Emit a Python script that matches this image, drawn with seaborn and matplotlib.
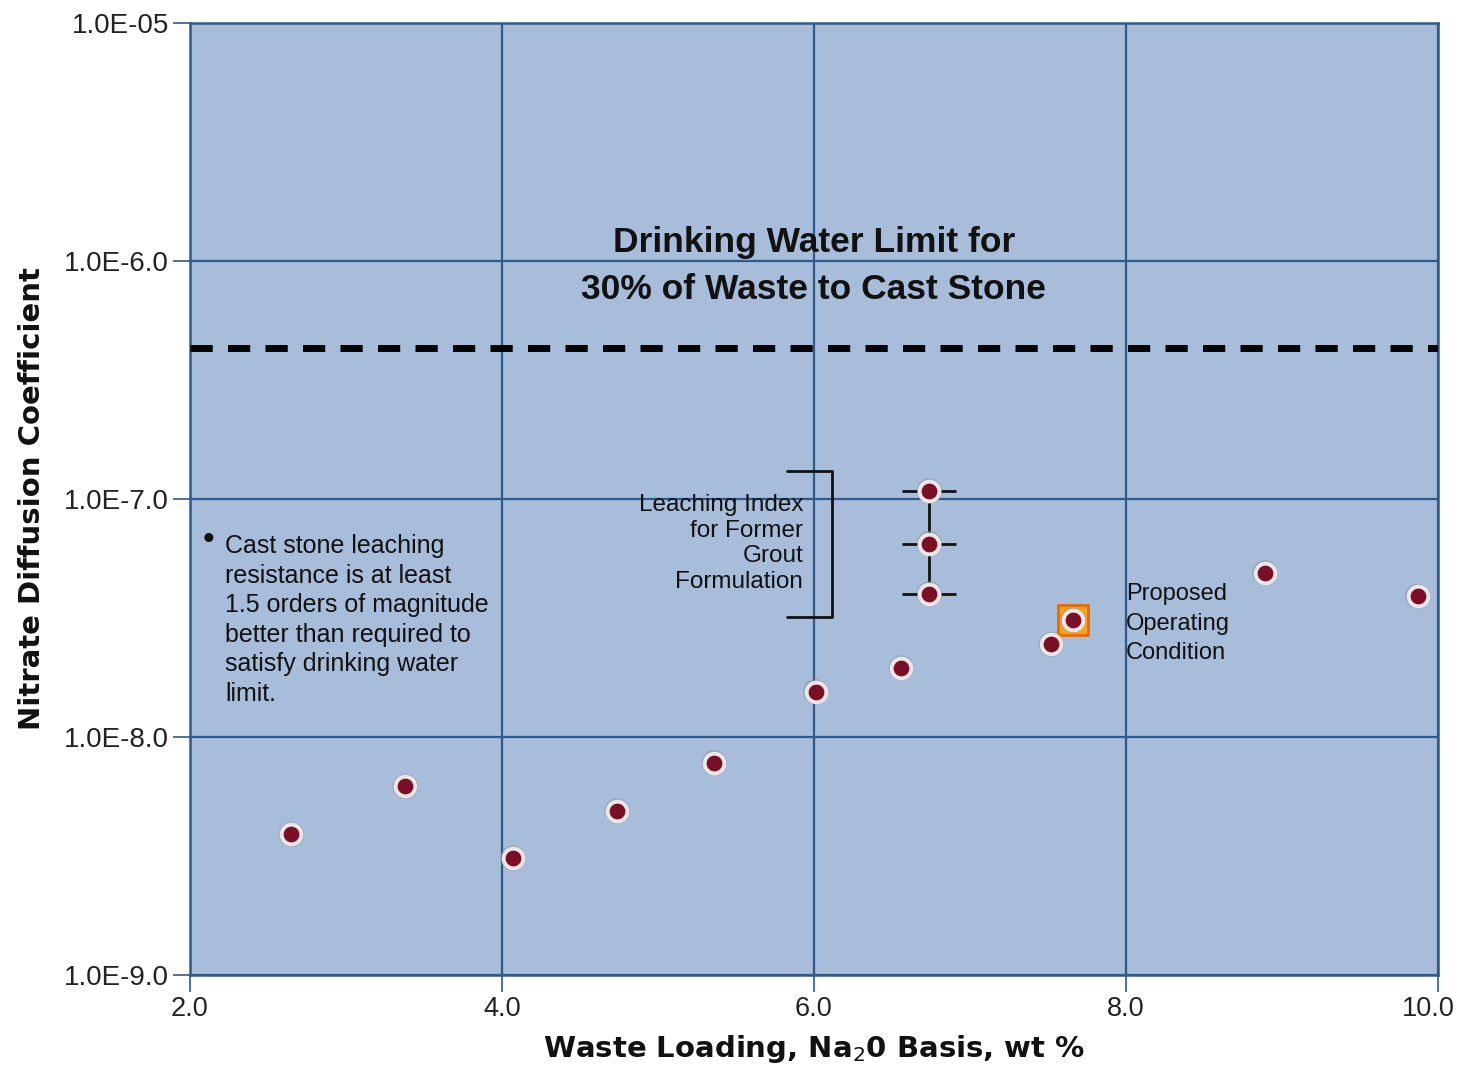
import matplotlib
matplotlib.use("Agg")
import matplotlib.pyplot as plt
import matplotlib.transforms as mtransforms
import seaborn as sns
import pandas as pd
from matplotlib.ticker import FixedLocator, NullLocator

# Cast stone leach test results
waste_loading = [2.65, 3.38, 4.07, 4.74, 5.36, 6.01, 6.56, 7.52, 7.66, 8.89, 9.87]
diffusivity = [3.9e-9, 6.2e-9, 3.1e-9, 4.9e-9, 7.8e-9, 1.55e-8, 1.95e-8, 2.45e-8, 3.1e-8, 4.9e-8, 3.9e-8]

# Former grout formulation leaching index values
grout_loading = [6.74, 6.74, 6.74]
grout_diffusivity = [1.08e-7, 6.5e-8, 4.0e-8]

# Proposed operating condition
proposed_loading = [7.66]
proposed_diffusivity = [3.1e-8]

# Drinking water limit
limit_value = 4.3e-7

x_ticks = [2.0, 4.0, 6.0, 8.0, 10.0]
x_tick_labels = ["2.0", "4.0", "6.0", "8.0", "10.0"]
y_ticks = [1e-9, 1e-8, 1e-7, 1e-6, 1e-5]
y_tick_labels = ["1.0E-9.0", "1.0E-8.0", "1.0E-7.0", "1.0E-6.0", "1.0E-05"]

sns.set_theme(style="white")
plt.rcParams["font.family"] = ["Liberation Sans", "DejaVu Sans"]

BG = "#A8BDDA"
GRID = "#2D5B8C"
DOT = "#7A0F26"
RING = "#ECE6E6"
INK = "#111111"

fig = plt.figure(figsize=(14.6, 10.66), dpi=100)
ax = fig.add_axes([0.1301, 0.0854, 0.8548, 0.8930])
ax.set_facecolor(BG)
ax.set_yscale("log")
ax.set_xlim(2.0, 10.0)
ax.set_ylim(1e-9, 1e-5)

ax.xaxis.set_major_locator(FixedLocator(x_ticks))
ax.yaxis.set_major_locator(FixedLocator(y_ticks))
ax.yaxis.set_minor_locator(NullLocator())
ax.set_xticklabels(x_tick_labels)
ax.set_yticklabels(y_tick_labels)
ax.tick_params(axis="y", which="major", labelsize=20)
ax.tick_params(axis="x", which="major", labelsize=19.5)
ax.tick_params(axis="both", which="major", colors=GRID,
               labelcolor="#222222", length=12, width=1.2, direction="out",
               pad=3, left=True, bottom=True)
ax.grid(True, which="major", color=GRID, linewidth=1.6)
for s in ax.spines.values():
    s.set_color(GRID)
    s.set_linewidth(1.8)

# nudge the last x tick label inward so it stays on the canvas
last = ax.get_xticklabels()[-1]
last.set_transform(last.get_transform() +
                   mtransforms.ScaledTranslation(-10 / 100, 0, fig.dpi_scale_trans))

# drinking water limit
ax.axhline(limit_value, color="black", linewidth=5, dashes=(3.2, 2.2), zorder=3)
ax.text(6.0, 9.5e-7, "Drinking Water Limit for\n30% of Waste to Cast Stone",
        ha="center", va="center", fontsize=25.5, fontweight="bold",
        linespacing=1.55, color=INK, zorder=4)

# former grout range: connecting line and horizontal caps
ax.plot([grout_loading[0], grout_loading[0]],
        [min(grout_diffusivity), max(grout_diffusivity)],
        color=INK, linewidth=2, zorder=4)
ax.scatter(grout_loading, grout_diffusivity, marker="_", s=1500,
           color=INK, linewidths=2, zorder=4)

# proposed operating condition highlight
ax.scatter(proposed_loading, proposed_diffusivity, marker="s", s=480,
           color="#F7A21B", edgecolors="#E86A00", linewidths=2, zorder=5)

df = pd.DataFrame({"loading": waste_loading + grout_loading,
                   "diff": diffusivity + grout_diffusivity})
# soft shadow beneath each dot
sns.scatterplot(data=df, x="loading", y="diff", ax=ax, s=330, color="#8C96A8",
                edgecolor="none", alpha=0.55, zorder=5, legend=False)
sns.scatterplot(data=df, x="loading", y="diff", ax=ax, s=200, color=DOT,
                edgecolor=RING, linewidth=2.8, zorder=6, legend=False)

ax.set_xlabel("Waste Loading, Na$_2$0 Basis, wt %", fontsize=21,
              fontweight="bold", family="DejaVu Sans", labelpad=8,
              color=INK)
ax.set_ylabel("Nitrate Diffusion Coefficient", fontsize=21,
              fontweight="bold", family="DejaVu Sans", color=INK)
ax.yaxis.set_label_coords(-0.115, 0.5)

# bracket around the former grout label
b_left, b_right = 5.83, 6.115
b_top, b_bottom = 1.31e-7, 3.19e-8
ax.plot([b_left, b_right, b_right, b_left], [b_top, b_top, b_bottom, b_bottom],
        color=INK, lw=2, zorder=4)

# annotation texts
ax.text(5.93, 6.5e-8, "Leaching Index\nfor Former\nGrout\nFormulation",
        ha="right", va="center", fontsize=17.5, linespacing=1.22,
        color=INK, zorder=4)

ax.text(2.08, 6.7e-8, "\u2022", ha="left", va="center", fontsize=24, color=INK)
ax.text(2.225, 3.1e-8,
        "Cast stone leaching\nresistance is at least\n1.5 orders of magnitude\n"
        "better than required to\nsatisfy drinking water\nlimit.",
        ha="left", va="center", fontsize=18, linespacing=1.29, color=INK)

ax.text(8.0, 2.99e-8, "Proposed\nOperating\nCondition", ha="left", va="center",
        fontsize=17, linespacing=1.45, color=INK,
        family=["Liberation Sans Narrow", "Liberation Sans", "DejaVu Sans"])

fig.savefig("out.png", dpi=100, facecolor="white")
